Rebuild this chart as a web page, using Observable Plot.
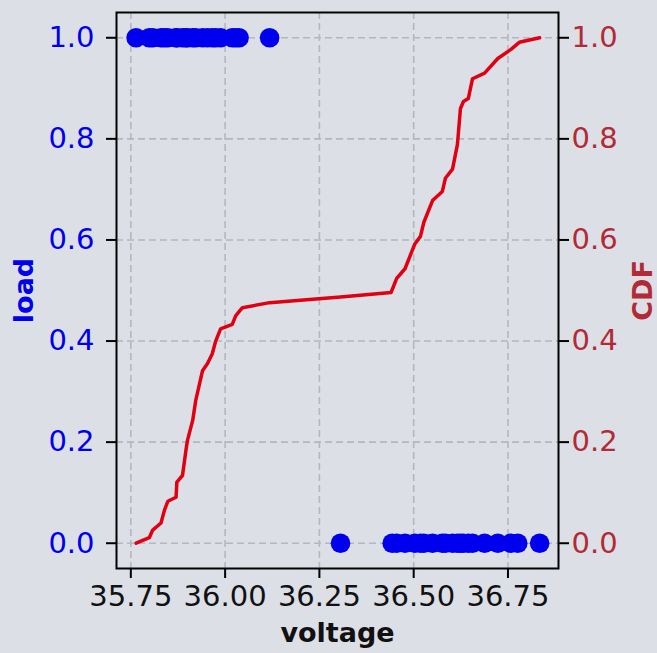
<!DOCTYPE html>
<html>
<head>
<meta charset="utf-8">
<script src="https://cdn.jsdelivr.net/npm/d3@7"></script>
<script src="https://cdn.jsdelivr.net/npm/@observablehq/plot@0.6"></script>
<style>
  html, body { margin: 0; padding: 0; background: #dcdfe6; }
</style>
</head>
<body>
<div id="chart"></div>
<script>
// Voltages of samples with load = 1
const load1Voltage = [35.764, 35.799, 35.808, 35.830, 35.839, 35.848, 35.870, 35.872, 35.887, 35.896,
  35.900, 35.914, 35.922, 35.940, 35.953, 35.966, 35.975, 35.988, 36.019, 36.028, 36.037, 36.118];
// Voltages of samples with load = 0
const load0Voltage = [36.306, 36.443, 36.455, 36.477, 36.503, 36.518, 36.527, 36.550, 36.576, 36.584,
  36.603, 36.616, 36.624, 36.632, 36.645, 36.656, 36.688, 36.723, 36.758, 36.776, 36.834];
// CDF curve vertices (voltage, cumulative fraction)
const cdfVoltage = [35.764, 35.799, 35.808, 35.830, 35.839, 35.848, 35.870, 35.872, 35.887, 35.896,
  35.900, 35.914, 35.922, 35.940, 35.953, 35.966, 35.975, 35.988, 36.019, 36.028, 36.037, 36.046,
  36.118, 36.306, 36.440, 36.455, 36.477, 36.503, 36.518, 36.527, 36.550, 36.576, 36.584, 36.603,
  36.616, 36.624, 36.632, 36.645, 36.656, 36.688, 36.723, 36.758, 36.780, 36.834];
const cdfValue = [0.000, 0.011, 0.026, 0.040, 0.065, 0.083, 0.091, 0.121, 0.134, 0.183,
  0.203, 0.243, 0.282, 0.341, 0.355, 0.375, 0.400, 0.424, 0.433, 0.450, 0.458, 0.466,
  0.476, 0.487, 0.496, 0.524, 0.543, 0.592, 0.607, 0.635, 0.678, 0.696, 0.722, 0.740,
  0.789, 0.860, 0.874, 0.880, 0.919, 0.930, 0.959, 0.977, 0.991, 1.000];
const xTicks = [35.75, 36.00, 36.25, 36.50, 36.75];
const yTicks = [0.0, 0.2, 0.4, 0.6, 0.8, 1.0];

const load1 = load1Voltage.map(v => ({voltage: v, load: 1}));
const load0 = load0Voltage.map(v => ({voltage: v, load: 0}));
const cdf = cdfVoltage.map((v, i) => ({voltage: v, cdf: cdfValue[i]}));

const bg = "#dcdfe6";
const blue = "#0000ee";
const cdfLabelColor = "#b22a35";
const lineColor = "#e00012";
const gridColor = "#b4b7bf";

const chart = Plot.plot({
  width: 657,
  height: 653,
  marginLeft: 116,
  marginRight: 99,
  marginTop: 12,
  marginBottom: 85,
  style: {background: bg, fontFamily: "DejaVu Sans", fontSize: "29px"},
  x: {domain: [35.712, 36.884]},
  y: {domain: [-0.05, 1.05]},
  marks: [
    Plot.gridX(xTicks, {stroke: gridColor, strokeOpacity: 1, strokeWidth: 1.6, strokeDasharray: "7,4"}),
    Plot.gridY(yTicks, {stroke: gridColor, strokeOpacity: 1, strokeWidth: 1.6, strokeDasharray: "7,4"}),
    Plot.line(cdf, {x: "voltage", y: "cdf", stroke: lineColor, strokeWidth: 3.5}),
    Plot.dot(load1, {x: "voltage", y: "load", r: 9.8, fill: blue, stroke: "none"}),
    Plot.dot(load0, {x: "voltage", y: "load", r: 9.8, fill: blue, stroke: "none"}),
    Plot.frame({stroke: "black", strokeWidth: 2}),
    Plot.axisX(xTicks, {tickFormat: d3.format(".2f"), tickSize: 10, tickPadding: 7, stroke: "black", strokeWidth: 2, fill: "#111", fontSize: 29, label: null}),
    Plot.axisY(yTicks, {anchor: "left", tickFormat: d3.format(".1f"), tickSize: 10, tickPadding: 12, stroke: "black", strokeWidth: 2, fill: blue, fontSize: 29, label: null}),
    Plot.axisY(yTicks, {anchor: "right", tickFormat: d3.format(".1f"), tickSize: 10, tickPadding: 3, stroke: "black", strokeWidth: 2, fill: cdfLabelColor, fontSize: 29, label: null}),
    Plot.text(["load"], {text: d => d, frameAnchor: "left", textAnchor: "middle", lineAnchor: "middle", dx: -92, rotate: -90, fill: blue, fontSize: 27, fontWeight: "bold"}),
    Plot.text(["CDF"], {text: d => d, frameAnchor: "right", textAnchor: "middle", lineAnchor: "middle", dx: 85, rotate: -90, fill: cdfLabelColor, fontSize: 27, fontWeight: "bold"}),
    Plot.text(["voltage"], {text: d => d, frameAnchor: "bottom", textAnchor: "middle", lineAnchor: "middle", dy: 65, fill: "#111", fontSize: 27, fontWeight: "bold"})
  ]
});
document.getElementById("chart").appendChild(chart);
</script>
</body>
</html>
